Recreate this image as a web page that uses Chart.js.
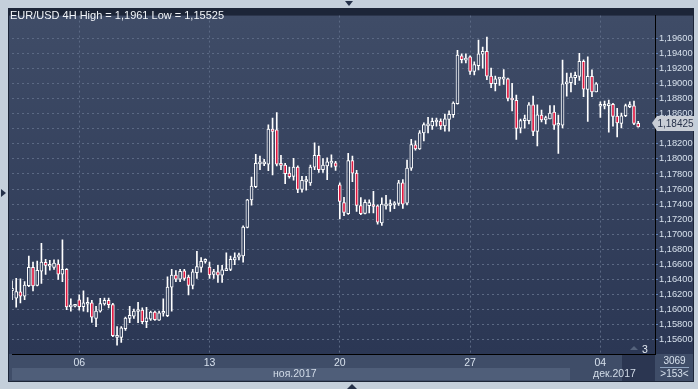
<!DOCTYPE html>
<html>
<head>
<meta charset="utf-8">
<script src="https://cdn.jsdelivr.net/npm/chart.js@4.4.1/dist/chart.umd.min.js"></script>
<style>
  body { margin: 0; width: 698px; height: 389px; background: #c4cfdb; position: relative; overflow: hidden; font-family: "Liberation Sans", Arial, sans-serif; }
  .abs { position: absolute; }
  #frame { left: 8px; top: 8px; width: 686px; height: 374px; background: #1c2538; }
  #wrap { left: 9px; top: 9px; width: 684px; height: 359px; }
  #title { left: 10px; top: 9px; color: #f2f5f9; font-size: 11px; white-space: nowrap; }
  #strip { left: 9px; top: 368px; width: 684px; height: 13px; background: #3f4d68; }
  #novBand { left: 12px; top: 368px; width: 558px; height: 12px; background: #4f5e79; }
  #shiftBox { left: 622px; top: 355px; width: 33px; height: 26px; background: #2b3651; }
  .month { top: 367px; color: #d2dce8; font-size: 10.5px; }
  #infoBox { left: 656px; top: 355px; width: 37px; height: 26px; background: #3f4d68; color: #d6e0ec; font-size: 10px; text-align: center; line-height: 12px; }
  #infoBox hr { margin: 0 4px; border: 0; border-top: 1px solid #8fa3bf; }
  #shiftNum { left: 642px; top: 343px; color: #e2e8f0; font-size: 10.5px; }
  #shiftTri { left: 630px; top: 346px; width: 0; height: 0; border-left: 4px solid transparent; border-right: 4px solid transparent; border-bottom: 4px solid #55637c; }
  #price { left: 657px; top: 116px; width: 37px; height: 15px; background: #c9ced6; color: #27324a; font-size: 10px; line-height: 15px; text-align: center; white-space: nowrap; }
  #priceTri { left: 652px; top: 116px; width: 0; height: 0; border-top: 7px solid transparent; border-bottom: 8px solid transparent; border-right: 5px solid #c9ced6; }
  #triTop { left: 345px; top: 1px; width: 0; height: 0; border-left: 4px solid transparent; border-right: 4px solid transparent; border-top: 5px solid #243049; }
  #triBot { left: 347px; top: 384px; width: 0; height: 0; border-left: 5px solid transparent; border-right: 5px solid transparent; border-bottom: 5px solid #243049; }
  #triLeft { left: 1px; top: 189px; width: 0; height: 0; border-top: 4px solid transparent; border-bottom: 4px solid transparent; border-left: 5px solid #243049; }
</style>
</head>
<body>
<div id="frame" class="abs"></div>
<div id="wrap" class="abs"><canvas id="chart"></canvas></div>
<div id="strip" class="abs"></div>
<div id="novBand" class="abs"></div>
<div id="shiftBox" class="abs"></div>
<div class="abs month" style="left:273px">ноя.2017</div>
<div class="abs month" style="left:593px">дек.2017</div>
<div id="infoBox" class="abs">3069<hr>&gt;153&lt;</div>
<div id="shiftTri" class="abs"></div>
<div id="shiftNum" class="abs">3</div>
<div id="title" class="abs">EUR/USD 4H High = 1,1961 Low = 1,15525</div>
<div id="priceTri" class="abs"></div>
<div id="price" class="abs">1,18425</div>
<div id="triTop" class="abs"></div>
<div id="triBot" class="abs"></div>
<div id="triLeft" class="abs"></div>
<script>
// 4H candles, EUR/USD, 150 bars + 4 empty slots on the right
const opens = [
  1.1625, 1.16152, 1.16234, 1.16178, 1.16317, 1.1656, 1.16321, 1.16508, 1.16626, 1.16574,
  1.1656, 1.16604, 1.16469, 1.16534, 1.16034, 1.16043, 1.1613, 1.16038, 1.1607, 1.1609,
  1.15882, 1.15978, 1.16073, 1.16121, 1.16065, 1.1563, 1.1563, 1.15747, 1.15882, 1.15912,
  1.15973, 1.15991, 1.15838, 1.15873, 1.15965, 1.1586, 1.1595, 1.15917, 1.16295, 1.16456,
  1.16404, 1.16513, 1.1643, 1.16321, 1.1649, 1.1656, 1.16639, 1.16565, 1.16465, 1.16499,
  1.16456, 1.16517, 1.16534, 1.1666, 1.16695, 1.16712, 1.1709, 1.17456, 1.1763, 1.17934,
  1.17934, 1.1793, 1.18395, 1.18387, 1.17943, 1.17917, 1.17813, 1.17769, 1.17891, 1.17595,
  1.177, 1.17682, 1.17891, 1.18047, 1.17856, 1.17908, 1.17943, 1.17947, 1.17656, 1.17421,
  1.17273, 1.17977, 1.17812, 1.17381, 1.17277, 1.17378, 1.1739, 1.17377, 1.17151, 1.17377,
  1.17382, 1.1739, 1.17408, 1.17682, 1.17412, 1.17877, 1.18187, 1.18134, 1.18347, 1.18439,
  1.18439, 1.18491, 1.18504, 1.18439, 1.18526, 1.18587, 1.18734, 1.1937, 1.19313, 1.19356,
  1.19161, 1.19239, 1.19391, 1.1943, 1.191, 1.18999, 1.19061, 1.19061, 1.19065, 1.18804,
  1.18778, 1.18408, 1.18508, 1.18508, 1.18717, 1.18365, 1.18582, 1.18517, 1.1853, 1.18621,
  1.18447, 1.18447, 1.18996, 1.19013, 1.19078, 1.19096, 1.19296, 1.18922, 1.19096, 1.18891,
  1.187, 1.187, 1.18708, 1.18726, 1.18569, 1.18473, 1.18573, 1.18695, 1.18704, 1.18473
];
const highs = [
  1.1638, 1.16413, 1.16408, 1.1637, 1.16708, 1.1663, 1.16643, 1.16878, 1.16665, 1.16652,
  1.1666, 1.1666, 1.16926, 1.16543, 1.16143, 1.1605, 1.16195, 1.16247, 1.16157, 1.16121,
  1.16043, 1.16147, 1.16152, 1.16152, 1.16082, 1.15773, 1.15773, 1.15899, 1.16043, 1.16004,
  1.16095, 1.16021, 1.1603, 1.15978, 1.15978, 1.15978, 1.16143, 1.16434, 1.16534, 1.16517,
  1.16534, 1.16534, 1.16456, 1.16534, 1.16774, 1.16691, 1.16674, 1.1663, 1.16534, 1.16586,
  1.16586, 1.16752, 1.16708, 1.16752, 1.16751, 1.17112, 1.17465, 1.1776, 1.1806, 1.18039,
  1.17995, 1.18452, 1.18543, 1.18617, 1.18047, 1.17943, 1.17891, 1.18008, 1.17908, 1.17769,
  1.17769, 1.17917, 1.18213, 1.18169, 1.18004, 1.18013, 1.18056, 1.17969, 1.17682, 1.1749,
  1.18073, 1.18038, 1.17847, 1.17486, 1.17456, 1.17456, 1.17568, 1.1739, 1.17482, 1.17516,
  1.17456, 1.17434, 1.17716, 1.17725, 1.17986, 1.1826, 1.18239, 1.18378, 1.18478, 1.18552,
  1.18543, 1.18543, 1.18534, 1.18595, 1.18639, 1.1876, 1.19443, 1.19396, 1.19396, 1.19369,
  1.19291, 1.19578, 1.19487, 1.19617, 1.19208, 1.191, 1.19074, 1.19187, 1.19074, 1.19004,
  1.18848, 1.1853, 1.18582, 1.18748, 1.18835, 1.18717, 1.18648, 1.18569, 1.18708, 1.18708,
  1.18582, 1.19313, 1.19139, 1.19139, 1.19152, 1.19404, 1.19317, 1.19356, 1.19183, 1.19013,
  1.1876, 1.18769, 1.18782, 1.18739, 1.18673, 1.18608, 1.1873, 1.1876, 1.18769, 1.18499
];
const lows = [
  1.1613, 1.1603, 1.16086, 1.1613, 1.16304, 1.16247, 1.16313, 1.16347, 1.16465, 1.16521,
  1.16534, 1.164, 1.16369, 1.15999, 1.15978, 1.16035, 1.1599, 1.15978, 1.15969, 1.1583,
  1.15773, 1.15965, 1.16056, 1.16021, 1.15638, 1.15525, 1.15564, 1.15721, 1.15825, 1.15882,
  1.15825, 1.15812, 1.1576, 1.15856, 1.15856, 1.15856, 1.15912, 1.15904, 1.15978, 1.16369,
  1.16369, 1.16387, 1.16195, 1.16273, 1.16413, 1.16495, 1.16617, 1.16413, 1.16413, 1.1636,
  1.1636, 1.16517, 1.16517, 1.16595, 1.1666, 1.16629, 1.17082, 1.17386, 1.17617, 1.17856,
  1.1791, 1.17843, 1.17787, 1.17908, 1.17856, 1.17673, 1.17743, 1.17717, 1.17552, 1.1756,
  1.17586, 1.17647, 1.17856, 1.17821, 1.17821, 1.17726, 1.17891, 1.17847, 1.17203, 1.17247,
  1.17264, 1.17699, 1.17303, 1.1726, 1.17268, 1.17282, 1.17282, 1.17134, 1.17116, 1.17334,
  1.17303, 1.17338, 1.17382, 1.17343, 1.1739, 1.17847, 1.18117, 1.18125, 1.18239, 1.18347,
  1.18391, 1.18435, 1.18391, 1.18369, 1.18369, 1.18552, 1.18726, 1.19274, 1.19274, 1.19122,
  1.19117, 1.19182, 1.19204, 1.19052, 1.18948, 1.18904, 1.18978, 1.18991, 1.1877, 1.18639,
  1.1826, 1.18347, 1.18408, 1.18465, 1.18309, 1.18174, 1.18491, 1.18465, 1.1853, 1.18391,
  1.18073, 1.18413, 1.18834, 1.18891, 1.18987, 1.19043, 1.18826, 1.18499, 1.18826, 1.18891,
  1.18552, 1.18665, 1.18356, 1.18434, 1.18291, 1.18412, 1.1856, 1.18682, 1.18456, 1.18421
];
const closes = [
  1.1628, 1.16239, 1.16178, 1.16326, 1.1656, 1.16313, 1.16521, 1.1663, 1.16587, 1.16596,
  1.16617, 1.16469, 1.16534, 1.16034, 1.16052, 1.16047, 1.16038, 1.1609, 1.16095, 1.15899,
  1.15978, 1.16078, 1.16121, 1.16065, 1.15651, 1.15651, 1.15756, 1.15886, 1.15921, 1.15978,
  1.15991, 1.15838, 1.15891, 1.15965, 1.15864, 1.15956, 1.15971, 1.16299, 1.16456, 1.16404,
  1.16508, 1.16413, 1.16321, 1.16499, 1.16569, 1.16639, 1.16656, 1.1646, 1.16504, 1.16456,
  1.16526, 1.16534, 1.16665, 1.16691, 1.16725, 1.17095, 1.17456, 1.17639, 1.17943, 1.17943,
  1.1795, 1.18395, 1.18365, 1.1793, 1.17913, 1.17804, 1.17765, 1.17891, 1.17595, 1.17717,
  1.17717, 1.17891, 1.18047, 1.17856, 1.17917, 1.1796, 1.17973, 1.17899, 1.17434, 1.1729,
  1.17977, 1.17812, 1.17381, 1.17273, 1.17425, 1.17421, 1.17368, 1.1716, 1.17399, 1.17399,
  1.17395, 1.17412, 1.17682, 1.17399, 1.17877, 1.18191, 1.18134, 1.18347, 1.18456, 1.18452,
  1.185, 1.18504, 1.18439, 1.18534, 1.18591, 1.18743, 1.19378, 1.19317, 1.1933, 1.19161,
  1.19252, 1.19396, 1.1943, 1.191, 1.18999, 1.19065, 1.19074, 1.19074, 1.18804, 1.18783,
  1.18404, 1.18508, 1.18517, 1.18717, 1.18365, 1.18587, 1.18517, 1.18548, 1.18608, 1.18447,
  1.18465, 1.18996, 1.19022, 1.19087, 1.19109, 1.19296, 1.18926, 1.19096, 1.18891, 1.18996,
  1.18708, 1.18717, 1.1873, 1.18565, 1.18478, 1.18573, 1.18708, 1.18708, 1.18473, 1.18425
];
// day labels on the time axis and the bar they sit on
const dayLabels = ['06', '13', '20', '27', '04'];
const dayLabelIndex = [16, 47, 78, 109, 140];
const emptySlots = 4;

const slotCount = opens.length + emptySlots;
const labels = [];
for (let i = 0; i < slotCount; i++) {
  const k = dayLabelIndex.indexOf(i);
  labels.push(k >= 0 ? dayLabels[k] : '');
}
const lastClose = closes[closes.length - 1];

const UP_FILL = '#33415f', DOWN_FILL = '#e0173f', GRID = '#5b6984';

const panelBg = {
  id: 'panelBg',
  beforeDraw(chart) {
    const { ctx, chartArea: a, width, height } = chart;
    const g = ctx.createLinearGradient(0, a.top, 0, a.bottom);
    g.addColorStop(0, '#3f4c67');
    g.addColorStop(1, '#2b3754');
    ctx.save();
    ctx.fillStyle = g;
    ctx.fillRect(0, a.top, width, a.bottom - a.top);
    ctx.fillStyle = '#3f4d68';
    ctx.fillRect(0, a.bottom, width, height - a.bottom);
    ctx.restore();
  }
};

new Chart(document.getElementById('chart'), {
  type: 'bar',
  data: {
    labels,
    datasets: [
      {
        label: 'body',
        data: opens.map((o, i) => [o, closes[i]]),
        backgroundColor: opens.map((o, i) => closes[i] >= o ? UP_FILL : DOWN_FILL),
        borderColor: '#ffffff',
        borderWidth: 1,
        borderSkipped: false,
        barThickness: 3,
        minBarLength: 2,
        grouped: false,
        order: 0
      },
      {
        label: 'wick',
        data: lows.map((l, i) => [l, highs[i]]),
        backgroundColor: '#ffffff',
        borderWidth: 0,
        barThickness: 1,
        grouped: false,
        order: 1
      }
    ]
  },
  options: {
    responsive: true,
    maintainAspectRatio: false,
    animation: false,
    layout: { padding: 0 },
    plugins: { legend: { display: false }, tooltip: { enabled: false } },
    scales: {
      x: {
        offset: false,
        grid: {
          offset: false,
          drawTicks: false,
          color: ctx => labels[ctx.index] ? GRID : 'rgba(0,0,0,0)'
        },
        border: { color: '#000000', width: 1, dash: [2, 3] },
        ticks: {
          autoSkip: false, maxRotation: 0, padding: 3,
          color: '#d6e0ec', font: { size: 10.5, family: 'Liberation Sans' },
          callback: (v, i) => labels[i]
        },
        afterFit: axis => { axis.height = 14; }
      },
      y: {
        position: 'right',
        min: 1.15409,
        max: 1.19904,
        grid: { color: GRID, tickColor: '#5f80b6', tickLength: 3, tickBorderDash: [6, 0] },
        border: { color: '#000000', width: 1, dash: [2, 3] },
        ticks: {
          stepSize: 0.002, includeBounds: false, padding: 1,
          color: '#d6e0ec', font: { size: 9.3, family: 'Liberation Sans' },
          // the current-price box covers the label next to it
          callback: v => Math.abs(v - lastClose) < 0.0008 ? '' : v.toFixed(5).replace('.', ',')
        },
        afterBuildTicks: axis => { axis.ticks = axis.ticks.filter(t => t.value > 1.1555 && t.value < 1.1965); },
        afterFit: axis => { axis.width = 38; }
      }
    }
  },
  plugins: [panelBg]
});
</script>
</body>
</html>
